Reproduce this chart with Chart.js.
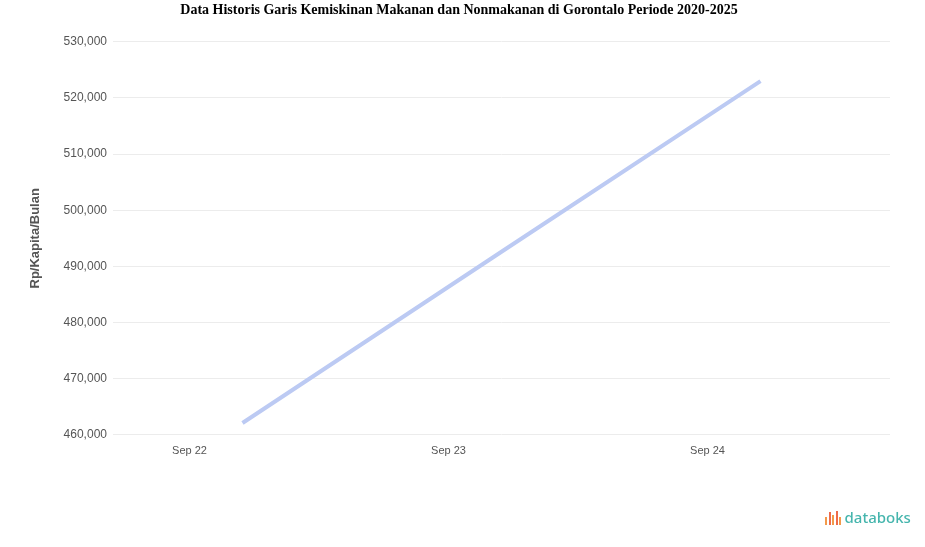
<!DOCTYPE html>
<html>
<head>
<meta charset="utf-8">
<script src="https://cdn.jsdelivr.net/npm/chart.js@4.4.1/dist/chart.umd.min.js"></script>
<style>
  html, body { margin: 0; padding: 0; background: #fff; }
  #wrap { position: relative; width: 925px; height: 547px; }
  #logo { position: absolute; left: 825px; top: 507px; font-family: "Noto Sans", Arial, sans-serif;
          font-size: 15px; color: #45b5ad; font-weight: 500; }
  #logo .bars { display: inline-block; vertical-align: -2px; margin-right: 2px; }
  #logo .bars i { display: inline-block; width: 2px; margin-right: 1.5px; background: #ef6b4a; }
</style>
</head>
<body>
<div id="wrap">
  <canvas id="povertyChart"></canvas>
  <div id="logo"><span class="bars"><i style="height:8px;background:#f39a4a"></i><i style="height:13px"></i><i style="height:10px;background:#f39a4a"></i><i style="height:14px"></i><i style="height:8px;background:#f39a4a"></i></span>databoks</div>
</div>
<script>
// Data
const periods = ['Sep 22', 'Sep 23', 'Sep 24'];
const povertyLine = [462100, 492600, 523000];
const yMin = 460000;
const yMax = 530000;
const yStep = 10000;

const ctx = document.getElementById('povertyChart').getContext('2d');

new Chart(ctx, {
    type: 'line',
    data: {
        labels: periods,
        datasets: [{
            label: 'Garis Kemiskinan',
            data: povertyLine,
            borderColor: '#bccaf3',
            borderWidth: 4,
            pointRadius: 0,
            fill: false,
            tension: 0
        }]
    },
    options: {
        responsive: true,
        maintainAspectRatio: false,
        animation: false,
        layout: { padding: { left: 28, right: 35, top: 0, bottom: 87 } },
        plugins: {
            legend: { display: false },
            tooltip: { enabled: false },
            title: {
                display: true,
                text: 'Data Historis Garis Kemiskinan Makanan dan Nonmakanan di Gorontalo Periode 2020-2025',
                color: '#000',
                font: { family: '"Liberation Serif", "Times New Roman", serif', size: 14, weight: 'bold' },
                padding: { top: 2, bottom: 23 }
            }
        },
        scales: {
            x: {
                offset: true,
                grid: { display: false },
                border: { display: false },
                ticks: {
                    color: '#555',
                    labelOffset: -53,
                    padding: 2,
                    font: { family: 'Arial, "Liberation Sans", sans-serif', size: 11 }
                }
            },
            y: {
                min: yMin,
                max: yMax,
                grid: { color: '#ececec', drawTicks: false },
                border: { display: false },
                ticks: {
                    stepSize: yStep,
                    color: '#555',
                    padding: 6,
                    font: { family: 'Arial, "Liberation Sans", sans-serif', size: 12 },
                    callback: v => v.toLocaleString('en-US')
                },
                title: {
                    display: true,
                    text: 'Rp/Kapita/Bulan',
                    color: '#555',
                    font: { family: 'Arial, "Liberation Sans", sans-serif', size: 13, weight: 'bold' },
                    padding: { top: 0, bottom: 14 }
                }
            }
        }
    }
});
</script>
</body>
</html>
